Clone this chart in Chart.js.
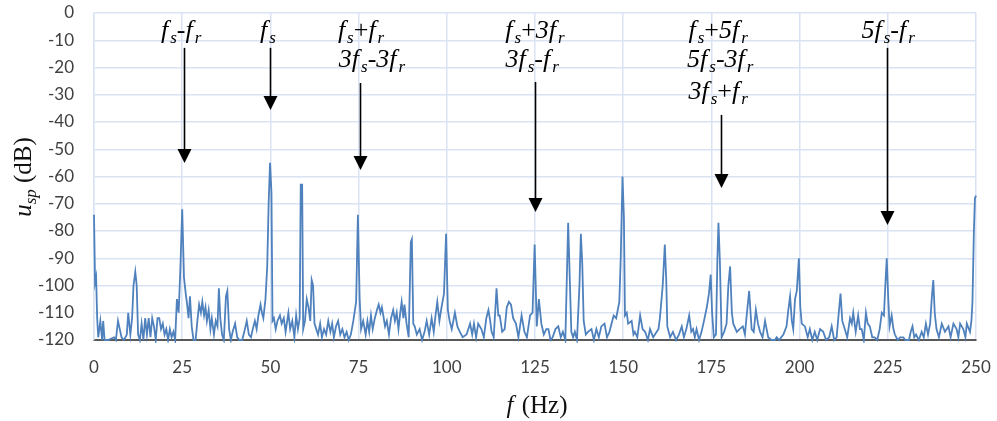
<!DOCTYPE html>
<html>
<head>
<meta charset="utf-8">
<script src="https://cdn.jsdelivr.net/npm/chart.js@4.4.1/dist/chart.umd.min.js"></script>
<style>
  html, body { margin: 0; padding: 0; background: #fff; }
</style>
</head>
<body>
<canvas id="spec" width="997" height="421"></canvas>
<script>
// spectrum, [Hz, dB]
const band0to50 = [
  [0, -74], [0.3, -99], [0.6, -97], [0.9, -112], [1.2, -119], [1.8, -113], [2.3, -120], [2.6, -113], [3, -120], [4, -120],
  [5.7, -119], [6.2, -120], [6.8, -113], [7.3, -116], [7.8, -119], [8.5, -120], [9.3, -118], [9.7, -110], [10.3, -118], [10.8, -112],
  [11.2, -100], [11.7, -95], [12.1, -100], [12.5, -118], [13, -120], [13.5, -114], [14, -120], [14.5, -112], [15, -118], [15.5, -112],
  [16, -119], [16.5, -112], [17, -115], [17.5, -120], [18, -112], [18.5, -112], [19, -116], [19.5, -114], [20, -118], [20.5, -116],
  [21, -120], [21.5, -116], [22, -119], [22.5, -117], [23, -120], [23.5, -105], [24, -110], [24.5, -93], [25, -72], [25.5, -97],
  [26, -103], [26.4, -107], [26.8, -112], [27.2, -104], [27.7, -115], [28.2, -120], [28.8, -120], [29.3, -113], [29.8, -107], [30.3, -110],
  [30.7, -106], [31.2, -111], [31.6, -108], [32, -113], [32.5, -109], [33, -116], [33.4, -112], [34, -118], [34.5, -113], [35, -115],
  [35.4, -101], [35.8, -112], [36.3, -118], [36.8, -120], [37.4, -104], [37.8, -102], [38.3, -116], [38.8, -120], [39.3, -117], [40, -114],
  [40.6, -119], [41.2, -120], [42, -120], [42.6, -117], [43.3, -113], [43.9, -118], [44.5, -119], [45, -116], [45.6, -113], [46.1, -116],
  [46.6, -111], [47.2, -107], [47.6, -110], [48, -112], [48.6, -105], [49.1, -93], [49.5, -70], [49.9, -55]
]
const band50to100 = [
  [50.3, -66], [50.6, -113], [51, -112], [51.5, -116], [52, -113], [52.7, -111], [53.2, -114], [53.8, -112], [54.3, -117], [55.1, -110],
  [55.6, -116], [56.2, -113], [56.8, -119], [57.3, -111], [57.8, -116], [58.3, -112], [58.6, -63], [59, -63], [59.3, -116], [59.8, -113],
  [60.3, -105], [60.8, -108], [61.3, -113], [61.7, -98], [62.1, -100], [62.5, -114], [63, -116], [63.5, -118], [64.1, -114], [64.6, -119],
  [65.2, -116], [65.8, -118], [66.4, -113], [67, -117], [67.5, -114], [68, -119], [68.6, -115], [69.2, -113], [69.8, -118], [70.4, -116],
  [71, -119], [71.6, -117], [72.2, -120], [72.8, -118], [73.5, -113], [74.3, -106], [74.8, -74], [75.3, -105], [75.7, -116], [76.3, -113],
  [77, -118], [77.5, -113], [78, -117], [78.5, -111], [79, -116], [79.6, -112], [80.2, -109], [80.7, -107], [81.2, -110], [81.6, -108],
  [82, -111], [82.5, -115], [83, -113], [83.6, -118], [84.2, -112], [84.8, -109], [85.3, -113], [85.8, -110], [86.3, -116], [86.8, -110],
  [87.2, -106], [87.7, -112], [88, -107], [88.6, -114], [89.2, -119], [89.8, -84], [90.1, -83], [90.5, -114], [90.9, -115], [91.5, -118],
  [92.3, -116], [93, -120], [93.7, -117], [94.3, -113], [95, -118], [95.7, -112], [96.3, -117], [96.8, -111], [97.3, -106], [97.9, -113],
  [98.5, -108], [99.2, -103], [99.8, -81]
]
const band100to150 = [
  [100.3, -109], [100.8, -113], [101.4, -116], [102.3, -110], [103, -115], [103.7, -117], [104.5, -119], [105.6, -118], [106.6, -114], [107.2, -118],
  [107.7, -114], [108.3, -119], [108.9, -114], [109.8, -116], [110.5, -119], [111.2, -112], [111.8, -109], [112.3, -113], [112.7, -117], [113.3, -119],
  [114.1, -101], [114.6, -111], [115, -111], [115.7, -117], [116.4, -116], [117, -108], [117.6, -106], [118.2, -107], [118.8, -112], [119.6, -114],
  [120.3, -119], [121.2, -111], [122, -117], [122.7, -119], [123.6, -111], [124.3, -110], [124.9, -85], [125.5, -115], [126.1, -105], [126.8, -114],
  [127.5, -118], [128.2, -116], [128.8, -116], [129.4, -120], [130, -119], [130.8, -116], [131.6, -115], [132.3, -119], [132.9, -117], [133.6, -120],
  [134.1, -93], [134.4, -77], [134.8, -95], [135.3, -117], [135.8, -119], [136.3, -117], [136.9, -120], [137.6, -100], [138, -81], [138.4, -92],
  [138.8, -113], [139.4, -118], [140, -117], [141, -116], [141.7, -120], [142.4, -116], [143.1, -119], [143.8, -115], [144.7, -114], [145.4, -119],
  [146.1, -117], [147.3, -111], [148, -112], [148.9, -106], [149.3, -90], [149.8, -60]
]
const band150to200 = [
  [150.2, -75], [150.5, -111], [151, -110], [151.4, -114], [152.4, -113], [152.9, -118], [153.3, -117], [154, -119], [154.8, -111], [155.5, -116],
  [156.2, -117], [157, -120], [157.6, -116], [158.5, -119], [159.5, -117], [160, -116], [160.4, -112], [161.2, -100], [161.8, -85], [162.2, -98],
  [162.5, -115], [163.3, -119], [164.1, -117], [165, -120], [165.8, -118], [166.6, -115], [167.2, -119], [167.9, -116], [168.7, -111], [169.3, -117],
  [169.8, -116], [170.3, -119], [170.8, -116], [171.5, -120], [172.2, -117], [172.9, -113], [173.7, -108], [174.3, -103], [174.8, -96], [175.2, -110],
  [175.7, -119], [176.3, -118], [176.7, -90], [177, -77], [177.4, -91], [177.9, -119], [178.6, -117], [179.3, -114], [179.8, -100], [180.3, -93],
  [180.8, -110], [181.2, -114], [182.2, -117], [183, -116], [183.9, -115], [184.5, -118], [185, -111], [185.7, -102], [186.4, -116], [187, -117],
  [187.6, -109], [188.2, -114], [188.8, -117], [189.5, -119], [190.2, -113], [191.1, -119], [192, -120], [193, -120], [193.5, -119], [194.2, -120],
  [195.4, -118], [196.3, -115], [196.8, -109], [197.3, -104], [197.8, -113], [198.2, -116], [198.7, -105], [199.2, -102], [199.8, -90]
]
const band200to250 = [
  [200.2, -108], [200.6, -114], [201.5, -115], [202.3, -119], [202.9, -116], [203.6, -120], [204.3, -117], [205, -120], [205.8, -116], [206.7, -117],
  [207.5, -120], [208.4, -119], [209.1, -115], [209.8, -120], [210.5, -119], [211.1, -110], [211.6, -103], [212.1, -113], [212.8, -116], [213.5, -119],
  [214.3, -112], [214.8, -114], [215.2, -110], [215.9, -117], [216.6, -111], [217.1, -116], [217.6, -116], [218.2, -120], [218.8, -110], [219.3, -114],
  [219.9, -115], [220.6, -119], [221.3, -119], [222, -120], [222.7, -116], [223.3, -110], [223.9, -111], [224.3, -100], [224.7, -90], [225.1, -104],
  [225.5, -115], [226.1, -111], [226.6, -116], [227, -118], [227.8, -120], [228.5, -119], [229.4, -119], [230, -120], [231, -120], [231.5, -117],
  [232, -115], [232.5, -119], [233, -118], [233.8, -120], [234.6, -117], [235.2, -119], [235.8, -114], [236.4, -118], [237, -114], [237.5, -104],
  [237.9, -98], [238.3, -110], [238.8, -116], [239.5, -119], [240.3, -114], [241.2, -117], [242.2, -115], [242.8, -119], [243.6, -114], [244.5, -116],
  [245, -119], [245.5, -114], [246.4, -116], [247, -119], [247.4, -114], [248.3, -117], [248.7, -113], [249, -106], [249.4, -80], [249.7, -68],
  [250, -67]
]
const spectrum = [...band0to50, ...band50to100, ...band100to150, ...band150to200, ...band200to250]

const xTicks = [0, 25, 50, 75, 100, 125, 150, 175, 200, 225, 250]
const yTicks = [0, -10, -20, -30, -40, -50, -60, -70, -80, -90, -100, -110, -120]

// arrows: x in Hz, line from/to in dB, label lines with their centre (Hz) and height (dB)
const markers = [
  { hz: 25.5, from: -12.8, to: -55, labels: [['f_s-f_r', 24.7, -6.6]] },
  { hz: 49.9, from: -12.8, to: -35.6, labels: [['f_s', 49.3, -6.6]] },
  { hz: 75.4, from: -25.7, to: -57.6, labels: [['f_s+f_r', 75.7, -6.6], ['3f_s-3f_r', 78.8, -17.2]] },
  { hz: 125, from: -25.3, to: -73, labels: [['f_s+3f_r', 125, -6.6], ['3f_s-f_r', 124.2, -17.2]] },
  { hz: 177.6, from: -37.4, to: -64.2, labels: [['f_s+5f_r', 176.9, -6.6], ['5f_s-3f_r', 177.5, -17.2], ['3f_s+f_r', 176.9, -28.9]] },
  { hz: 224.8, from: -12.8, to: -77.8, labels: [['5f_s-f_r', 225.1, -6.6]] }
]

const serif = '"Liberation Serif", "Times New Roman", serif'
const gridBlue = '#d9e3f4'

// draws pieces [{t, it, sub}] centred on cx, middle at cy
const drawPieces = (ctx, pieces, cx, cy, size) => {
  const fontOf = p => `${p.it ? 'italic ' : ''}${p.sub ? Math.round(size * 0.66) : size}px ${serif}`
  let w = 0
  pieces.forEach(p => { ctx.font = fontOf(p); p.w = ctx.measureText(p.t).width + (p.sp || 0); w += p.w })
  let x = cx - w / 2
  ctx.textAlign = 'left'
  ctx.textBaseline = 'middle'
  pieces.forEach(p => {
    ctx.font = fontOf(p)
    ctx.fillText(p.t, x, cy + (p.sub ? size * 0.3 : 0))
    x += p.w
  })
}

const parseLabel = (str) => {
  const out = []
  for (let i = 0; i < str.length; i++) {
    if (str[i] === '_') { out.push({ t: str[i + 1], it: true, sub: true }); i++; continue }
    out.push({ t: str[i], it: /[a-z0-9]/.test(str[i]), sub: false, sp: str[i] === 'f' ? 2 : 0 })
  }
  return out
}

const markerPlugin = {
  id: 'markers',
  afterDraw(chart) {
    const { ctx, scales: { x, y } } = chart
    ctx.save()
    ctx.fillStyle = '#000'
    ctx.strokeStyle = '#000'
    ctx.lineWidth = 1.6
    markers.forEach(m => {
      const px = Math.round(x.getPixelForValue(m.hz)) + 0.5
      const top = y.getPixelForValue(m.from)
      const tip = y.getPixelForValue(m.to)
      ctx.beginPath()
      ctx.moveTo(px, top)
      ctx.lineTo(px, tip - 12)
      ctx.stroke()
      ctx.beginPath()
      ctx.moveTo(px - 7, tip - 14)
      ctx.lineTo(px + 7, tip - 14)
      ctx.lineTo(px, tip)
      ctx.closePath()
      ctx.fill()
      m.labels.forEach(([txt, hz, db]) => {
        drawPieces(ctx, parseLabel(txt), x.getPixelForValue(hz), y.getPixelForValue(db), 26)
      })
    })

    // axis titles
    ctx.fillStyle = '#111'
    drawPieces(ctx, [{ t: 'f', it: true, sp: 2 }, { t: ' (Hz)', it: false }], 537, 406, 25)
    ctx.translate(24, 177)
    ctx.rotate(-Math.PI / 2)
    drawPieces(ctx, [{ t: 'u', it: true }, { t: 'sp', it: true, sub: true }, { t: ' (dB)', it: false }], 0, 0, 25)
    ctx.restore()
  }
}

const tickFont = { family: 'Lato, "Open Sans", sans-serif', size: 17 }

new Chart(document.getElementById('spec'), {
  type: 'line',
  data: {
    datasets: [{
      data: spectrum.map(([f, db]) => ({ x: f, y: db })),
      borderColor: '#4f81bd',
      borderWidth: 1.8,
      pointRadius: 0,
      tension: 0,
      fill: false,
      clip: 3
    }]
  },
  options: {
    responsive: false,
    animation: false,
    devicePixelRatio: 1,
    layout: { padding: { top: 13, right: 21, left: 0, bottom: 0 } },
    plugins: { legend: { display: false }, tooltip: { enabled: false } },
    scales: {
      x: {
        type: 'linear',
        min: 0,
        max: 250,
        afterBuildTicks: (s) => { s.ticks = xTicks.map(v => ({ value: v })) },
        afterFit: (s) => { s.height = 81; s.paddingLeft = 0; s.paddingRight = 0 },
        grid: { color: gridBlue, lineWidth: 1.5, drawTicks: false },
        border: { color: '#595959', width: 2 },
        ticks: { font: tickFont, color: '#404040', padding: 17, maxRotation: 0 }
      },
      y: {
        min: -120,
        max: 0,
        afterBuildTicks: (s) => { s.ticks = yTicks.map(v => ({ value: v })) },
        afterFit: (s) => { s.width = 94; s.paddingTop = 0; s.paddingBottom = 0 },
        grid: { color: gridBlue, lineWidth: 1.5, drawTicks: false },
        border: { color: gridBlue, width: 1.5 },
        ticks: { font: tickFont, color: '#404040', padding: 20 }
      }
    }
  },
  plugins: [markerPlugin]
})
</script>
</body>
</html>
